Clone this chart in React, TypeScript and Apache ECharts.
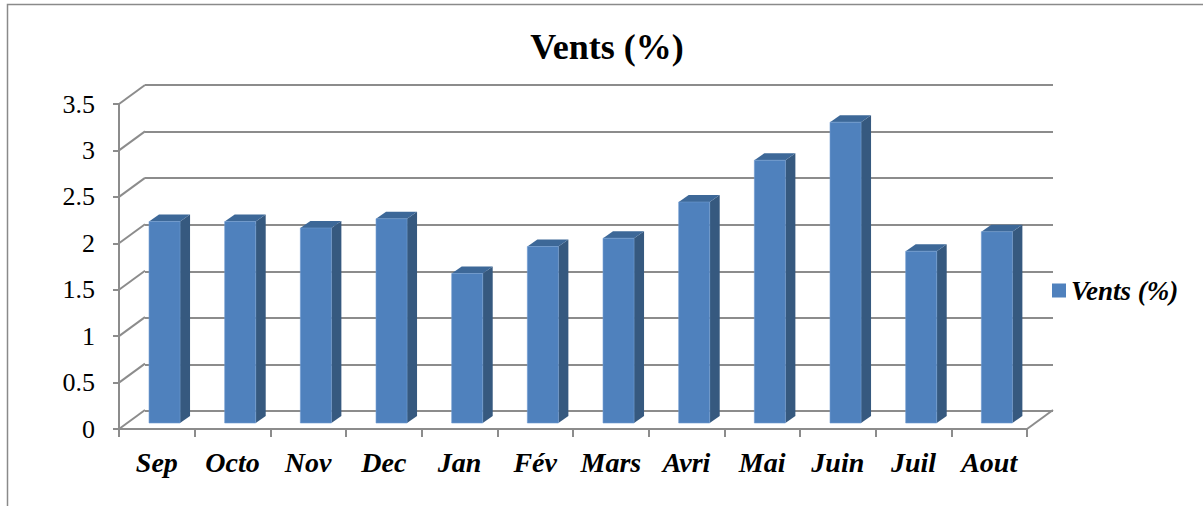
import React, { useEffect, useRef } from "react";
import * as echarts from "echarts";

const categories = ["Sep", "Octo", "Nov", "Dec", "Jan", "Fév", "Mars", "Avri", "Mai", "Juin", "Juil", "Aout"];
const ventsValues = [2.17, 2.17, 2.1, 2.2, 1.61, 1.9, 1.99, 2.38, 2.83, 3.24, 1.85, 2.06];
const yTicks = [0, 0.5, 1, 1.5, 2, 2.5, 3, 3.5];
const seriesName = "Vents (%)";
const titleText = "Vents (%)";

const FONT = "Liberation Serif";
const GRID_COLOR = "#8c8c8c";
const FRONT = "#4F81BD";
const SIDE = "#36597F";
const TOP = "#3D6898";

export default function App() {
  const ref = useRef<HTMLDivElement>(null);
  useEffect(() => {
    const chart = echarts.init(ref.current!, null, { renderer: "svg" });
    const depthX = 26;
    const depthY = -19;
    const option: any = {
      animation: false,
      backgroundColor: "#ffffff",
      textStyle: { fontFamily: FONT },
      title: {
        text: titleText,
        left: 602,
        textAlign: "center",
        top: 24,
        textStyle: { fontFamily: FONT, fontSize: 36, fontWeight: "bold", color: "#000" },
      },
      legend: {
        data: [{ name: seriesName, icon: "rect" }],
        left: 1047,
        top: 272,
        itemWidth: 14,
        itemHeight: 14,
        textStyle: { fontFamily: FONT, fontSize: 27, fontWeight: "bold", fontStyle: "italic", color: "#000" },
      },
      graphic: [
        {
          type: "rect",
          shape: { x: 7.5, y: 4.5, width: 1300, height: 600 },
          style: { fill: "none", stroke: "#8a8a8a", lineWidth: 1.5 },
          silent: true,
          z: -10,
        },
      ],
      grid: [
        { left: 119, right: 1203 - 1027, top: 104, bottom: 506 - 429 },
        { left: 145, right: 1203 - 1053, top: 85, bottom: 506 - 411 },
      ],
      xAxis: [
        {
          type: "category",
          gridIndex: 0,
          data: categories,
          boundaryGap: true,
          axisLine: { show: true, lineStyle: { color: GRID_COLOR, width: 2 } },
          axisTick: { show: true, length: 8, lineStyle: { color: GRID_COLOR, width: 2 } },
          axisLabel: {
            margin: 19,
            fontFamily: FONT,
            fontSize: 28,
            fontWeight: "bold",
            fontStyle: "italic",
            color: "#000",
            interval: 0,
          },
          splitLine: { show: false },
        },
        { type: "value", gridIndex: 1, show: false, min: 0, max: 1 },
      ],
      yAxis: [
        {
          type: "value",
          gridIndex: 0,
          min: 0,
          max: 3.5,
          interval: 0.5,
          axisLine: { show: true, lineStyle: { color: GRID_COLOR, width: 2 } },
          axisTick: { show: true, length: 6, lineStyle: { color: GRID_COLOR, width: 2 } },
          axisLabel: { margin: 24, fontFamily: FONT, fontSize: 26, color: "#000" },
          splitLine: { show: false },
        },
        {
          type: "value",
          gridIndex: 1,
          min: 0,
          max: 3.5,
          interval: 0.5,
          axisLine: { show: false },
          axisTick: { show: false },
          axisLabel: { show: false },
          splitLine: { show: true, lineStyle: { color: GRID_COLOR, width: 2 } },
        },
      ],
      series: [
        {
          type: "custom",
          name: "walls",
          xAxisIndex: 0,
          yAxisIndex: 0,
          clip: false,
          silent: true,
          z: 1,
          data: yTicks.map((v) => [0, v]),
          encode: { x: 0, y: 1 },
          renderItem: (params: any, api: any) => {
            const v = api.value(1);
            const p = api.coord([0, v]);
            const bw = api.size([1, 0])[0];
            const left = p[0] - bw / 2;
            const children: any[] = [
              {
                type: "line",
                shape: { x1: left, y1: p[1], x2: left + depthX, y2: p[1] + depthY },
                style: { stroke: GRID_COLOR, lineWidth: 2 },
              },
            ];
            if (v === 0) {
              const right = left + bw * categories.length;
              children.push({
                type: "line",
                shape: { x1: right, y1: p[1], x2: right + depthX, y2: p[1] + depthY },
                style: { stroke: GRID_COLOR, lineWidth: 2 },
              });
            }
            return { type: "group", children };
          },
        },
        {
          type: "custom",
          name: seriesName,
          xAxisIndex: 0,
          yAxisIndex: 0,
          clip: false,
          z: 5,
          itemStyle: { color: FRONT },
          data: ventsValues.map((v, i) => [i, v]),
          encode: { x: 0, y: 1 },
          renderItem: (params: any, api: any) => {
            const i = api.value(0);
            const v = api.value(1);
            const base = api.coord([i, 0]);
            const top = api.coord([i, v]);
            const bw = api.size([1, 0])[0];
            const faceW = bw * 0.41;
            const cx = base[0] + 7.7;
            const x1 = cx - faceW / 2;
            const x2 = cx + faceW / 2;
            const yb = base[1] - 6;
            const yt = top[1] - 6;
            const sx = 10;
            const sy = -7;
            return {
              type: "group",
              children: [
                {
                  type: "polygon",
                  shape: { points: [[x2, yb], [x2 + sx, yb + sy], [x2 + sx, yt + sy], [x2, yt]] },
                  style: { fill: SIDE },
                },
                {
                  type: "polygon",
                  shape: { points: [[x1, yt], [x1 + sx, yt + sy], [x2 + sx, yt + sy], [x2, yt]] },
                  style: { fill: TOP },
                },
                {
                  type: "rect",
                  shape: { x: x1, y: yt, width: faceW, height: yb - yt },
                  style: { fill: FRONT, stroke: "#6f9ad0", lineWidth: 0.6 },
                },
              ],
            };
          },
        },
      ],
    };
    chart.setOption(option);
    return () => chart.dispose();
  }, []);
  return (
    <div
      ref={ref}
      style={{ position: "fixed", left: 0, top: 0, width: 1203, height: 506, background: "#fff" }}
    />
  );
}
